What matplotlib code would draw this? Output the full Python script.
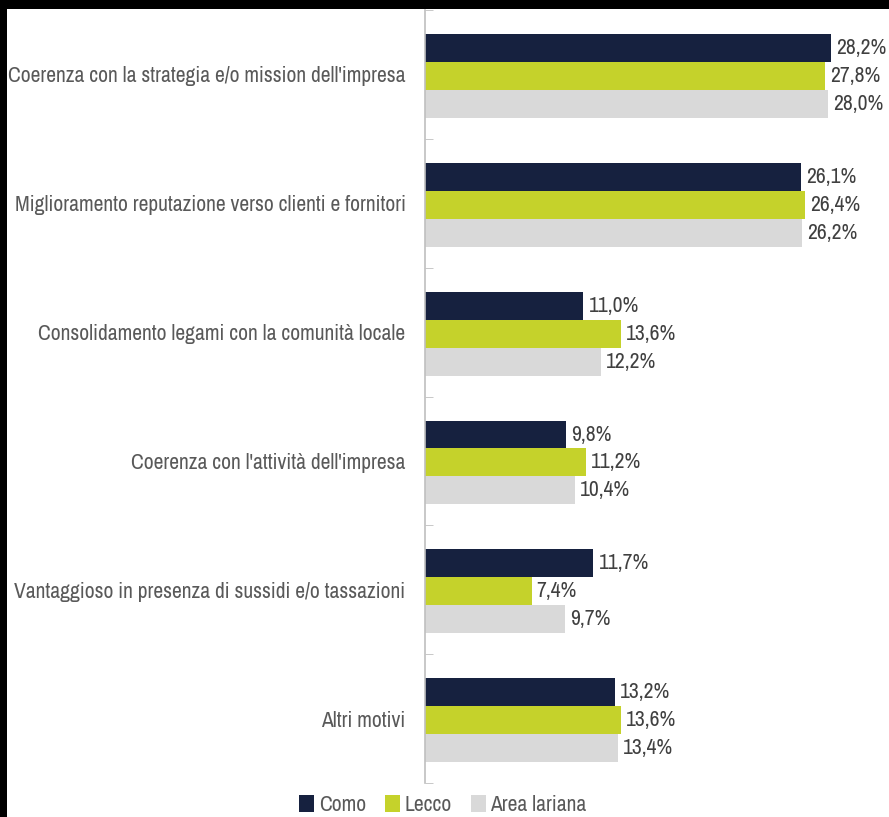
import numpy as np
import matplotlib.pyplot as plt
from matplotlib.patches import Rectangle, Patch

# ---------- DATA ----------
categories = [
    "Coerenza con la strategia e/o mission dell'impresa",
    "Miglioramento reputazione verso clienti e fornitori",
    "Consolidamento legami con la comunità locale",
    "Coerenza con l'attività dell'impresa",
    "Vantaggioso in presenza di sussidi e/o tassazioni",
    "Altri motivi",
]
series_names = ["Como", "Lecco", "Area lariana"]
como = [28.2, 26.1, 11.0, 9.8, 11.7, 13.2]
lecco = [27.8, 26.4, 13.6, 11.2, 7.4, 13.6]
area = [28.0, 26.2, 12.2, 10.4, 9.7, 13.4]

# ---------- STYLE ----------
plt.rcParams['font.family'] = ["Archivo Narrow", "DejaVu Sans"]

colors = ["#16213F", "#C5D22B", "#D9D9D9"]
label_col = "#595959"
value_col = "#404040"
fs = 15.5

W, H = 889, 817
fig = plt.figure(figsize=(W / 100, H / 100), dpi=100, facecolor="black")
# white canvas inside the black frame
fig.patches.append(Rectangle((7 / W, 0), 1 - 7 / W, 1 - 9 / H,
                             transform=fig.transFigure, facecolor="white",
                             edgecolor="none", zorder=-5))

ax = fig.add_axes([425 / W, 34 / H, 432 / W, (783 - 10) / H])
ax.set_facecolor("none")

y = np.arange(len(categories))
h = 0.217
for k, vals in enumerate([como, lecco, area]):
    pos = y + (k - 1) * h + 0.012
    ax.barh(pos, vals, height=h, color=colors[k], edgecolor="none")
    for p, v in zip(pos, vals):
        ax.text(v + 0.35, p, f"{v:.1f}%".replace(".", ","), va="center", ha="left",
                fontsize=fs, color=value_col)

ax.set_xlim(0, 30)
ax.set_ylim(len(categories) - 0.5, -0.5)

ax.set_yticks(y)
ax.set_yticklabels(categories, fontsize=fs, color=label_col)
ax.tick_params(axis='y', length=0, pad=14)
ax.set_yticks(np.arange(-0.5, len(categories)), minor=True)
ax.tick_params(axis='y', which='minor', length=6, direction='in', color="#BFBFBF")
ax.set_xticks([])

for s in ["top", "right", "bottom"]:
    ax.spines[s].set_visible(False)
ax.spines["left"].set_color("#BFBFBF")
ax.spines["left"].set_linewidth(1.2)

handles = [Patch(facecolor=c, edgecolor="none") for c in colors]
fig.legend(handles, series_names, loc="center", bbox_to_anchor=(443 / W, 12 / H),
           ncol=3, frameon=False, fontsize=fs, labelcolor=label_col,
           handlelength=0.7, handleheight=0.8, handletextpad=0.2, columnspacing=0.9)

plt.savefig("out.png", dpi=100, facecolor="black")
